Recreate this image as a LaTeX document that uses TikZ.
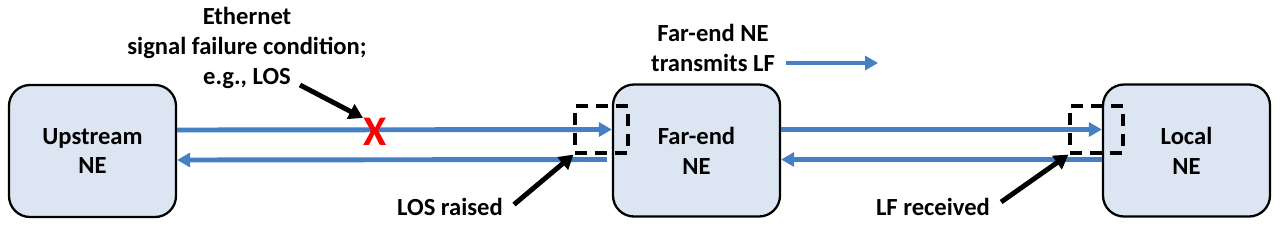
\documentclass[tikz,border=0pt]{standalone}
\usepackage{fontspec}
\setmainfont{Carlito}
\usepackage{tikz}
\usetikzlibrary{arrows.meta,calc,positioning}
\definecolor{AzulEnlace}{RGB}{68,128,196}
\definecolor{FondoNE}{RGB}{220,230,242}
\definecolor{RojoFallo}{RGB}{255,0,0}

\begin{document}
\begin{tikzpicture}[
    font=\fontsize{14}{17}\selectfont\bfseries,
    ne/.style={draw=black,line width=1.3pt,fill=FondoNE,rounded corners=0.42cm,
      minimum width=3.34cm,minimum height=2.64cm,align=center},
    enlace/.style={AzulEnlace,line width=2.8pt,-{Triangle[length=0.26cm,width=0.28cm]}},
    nota/.style={black,line width=2.8pt,-{Triangle[length=0.28cm,width=0.32cm]}},
    puerto/.style={draw=black,line width=1.8pt,dash pattern=on 0.24cm off 0.16cm,
      minimum width=1.06cm,minimum height=0.94cm,inner sep=0pt}]
  \useasboundingbox (0,0) rectangle (25.6,-4.58);
  % network elements
  \node[ne] (up) at (1.85,-3.02) {Upstream\\NE};
  \node[ne] (far) at (13.93,-3.01) {Far-end\\NE};
  \node[ne] (loc) at (23.73,-3.01) {Local\\NE};
  % links
  \draw[enlace] ($(up.east)+(0,0.42)$)--($(far.west)+(0,0.42)$);
  \draw[enlace] ($(far.west)+(-0.1,-0.18)$)--($(up.east)+(0,-0.18)$);
  \draw[enlace] ($(far.east)+(0,0.42)$)--($(loc.west)+(0,0.42)$);
  \draw[enlace] ($(loc.west)+(0,-0.18)$)--($(far.east)+(0,-0.18)$);
  % ports
  \node[puerto] (losport) at (12.03,-2.59) {};
  \node[puerto] (lfport) at (21.93,-2.59) {};
  % failure
  \node[text=RojoFallo,font=\fontsize{24}{24}\selectfont\bfseries,inner sep=0pt] (fallo) at (7.5,-2.64) {X};
  \node[align=center] (cond) at (4.94,-0.96) {Ethernet\\signal failure condition;\\e.g., LOS};
  \coordinate (condpie) at (6.0,-1.7);
  \draw[nota] (condpie)--(fallo.north west);
  \node (losrx) at (9.0,-4.14) {LOS raised};
  \draw[nota] ($(losrx.east)+(0.1,0.05)$)--(losport.south west);
  \node (lfrx) at (18.66,-4.14) {LF received};
  \draw[nota] ($(lfrx.east)+(0.1,0.1)$)--(lfport.south west);
  % LF transmission
  \node[align=center] (lftx) at (14.26,-0.96) {Far-end NE\\transmits LF};
  \coordinate (lffin) at (17.56,-1.26);
  \draw[enlace] (lftx.east|-lffin)++(0.1,0)--(lffin);
\end{tikzpicture}
\end{document}
